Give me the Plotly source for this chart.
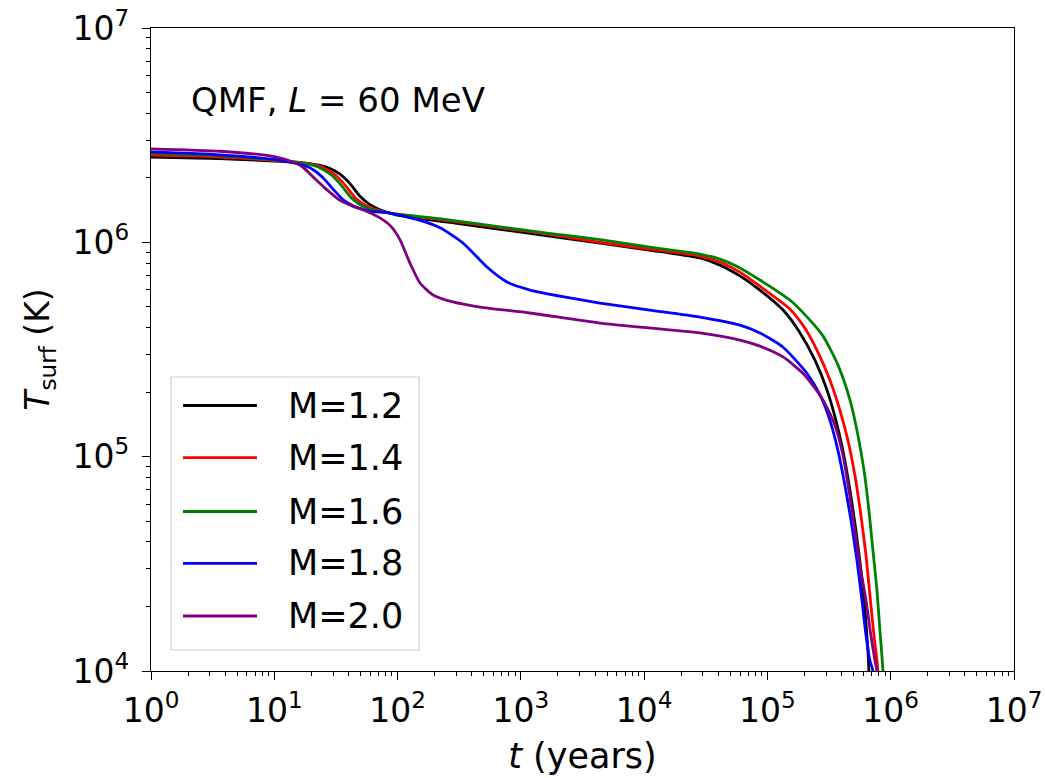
import plotly.graph_objects as go

# Surface temperature cooling curves, QMF EOS with L = 60 MeV
masses = ["M=1.2", "M=1.4", "M=1.6", "M=1.8", "M=2.0"]
colors = ["#000000", "#ff0000", "#008000", "#0000ff", "#800080"]

t_m12 = [1, 3.6, 11.1, 17.0, 23.0, 28.3, 34.1, 41.1, 49.5, 59.7, 71.9, 98.9, 266, 677, 1700,
         4380, 1.1e4, 2.83e4, 4.12e4, 5.98e4, 8.69e4, 1.34e5, 1.84e5, 2.43e5, 3.04e5,
         3.59e5, 4.09e5, 4.67e5, 5.22e5, 5.73e5, 6.18e5, 6.53e5, 6.65e5, 6.78e5]
T_m12 = [2.50e6, 2.46e6, 2.39e6, 2.35e6, 2.29e6, 2.21e6, 2.08e6, 1.88e6, 1.64e6, 1.50e6,
         1.42e6, 1.34e6, 1.24e6, 1.15e6, 1.07e6, 9.93e5, 9.2e5, 8.45e5, 7.83e5, 6.97e5,
         5.99e5, 4.83e5, 3.78e5, 2.82e5, 2.05e5, 1.48e5, 1.07e5, 6.98e4, 4.54e4, 2.96e4,
         1.92e4, 1.25e4, 1.0e4, 5.9e3]

t_m14 = [1, 3.6, 11.1, 17.0, 22.0, 26.3, 31.6, 38.1, 46.0, 55.5, 66.8, 86.7, 266, 677, 1700,
         4380, 1.1e4, 2.83e4, 4.12e4, 5.98e4, 8.69e4, 1.52e5, 2.01e5, 2.52e5, 3.21e5,
         3.87e5, 4.50e5, 5.12e5, 5.73e5, 6.30e5, 6.78e5, 7.31e5, 7.73e5, 7.87e5, 8.02e5]
T_m14 = [2.55e6, 2.50e6, 2.40e6, 2.35e6, 2.29e6, 2.20e6, 2.05e6, 1.83e6, 1.60e6, 1.48e6,
         1.42e6, 1.37e6, 1.26e6, 1.17e6, 1.09e6, 1.00e6, 9.3e5, 8.63e5, 8.09e5, 7.26e5,
         6.24e5, 4.89e5, 3.98e5, 3.14e5, 2.28e5, 1.65e5, 1.19e5, 8.2e4, 5.33e4, 3.47e4,
         2.26e4, 1.47e4, 1.12e4, 1.0e4, 5.9e3]

t_m16 = [1, 3.6, 11.1, 16.1, 20.5, 24.4, 29.4, 35.4, 42.7, 51.4, 62, 86.7, 266, 677, 1700,
         4380, 1.1e4, 2.83e4, 4.12e4, 5.98e4, 8.69e4, 1.52e5, 2.13e5, 2.82e5, 3.73e5,
         4.67e5, 5.42e5, 6.07e5, 6.65e5, 7.17e5, 7.73e5, 8.17e5, 8.65e5, 8.81e5]
T_m16 = [2.61e6, 2.54e6, 2.41e6, 2.35e6, 2.29e6, 2.20e6, 2.05e6, 1.83e6, 1.60e6, 1.48e6,
         1.42e6, 1.37e6, 1.27e6, 1.18e6, 1.10e6, 1.03e6, 9.5e5, 8.82e5, 8.35e5, 7.59e5,
         6.67e5, 5.38e5, 4.44e5, 3.66e5, 2.68e5, 1.84e5, 1.26e5, 8.65e4, 5.64e4, 3.66e4,
         2.39e4, 1.55e4, 1.0e4, 5.9e3]

t_m18 = [1, 3.6, 11.1, 14.7, 18.0, 21, 25.3, 30.5, 36.7, 46, 59.7, 86.7, 150, 221, 339, 531,
         771, 1186, 2300, 4380, 1.11e4, 2.83e4, 5.98e4, 8.69e4, 1.34e5, 2.09e5, 2.67e5,
         3.21e5, 3.73e5, 4.25e5, 4.76e5, 5.32e5, 5.84e5, 6.30e5, 6.78e5, 7.17e5, 7.31e5]
T_m18 = [2.64e6, 2.56e6, 2.42e6, 2.34e6, 2.27e6, 2.17e6, 1.98e6, 1.75e6, 1.57e6, 1.46e6,
         1.40e6, 1.37e6, 1.27e6, 1.17e6, 9.93e5, 7.67e5, 6.53e5, 5.99e5, 5.55e5, 5.21e5,
         4.83e5, 4.48e5, 4.11e5, 3.78e5, 3.24e5, 2.45e5, 1.94e5, 1.48e5, 1.07e5, 7.37e4,
         5.06e4, 3.29e4, 2.14e4, 1.47e4, 1.12e4, 1.0e4, 5.9e3]

t_m20 = [1, 3.6, 9.2, 14.2, 17.1, 20.6, 25.8, 34.1, 42.7, 52.4, 71.9, 88, 104.5, 126, 152,
         194, 281, 466, 1186, 4380, 2.83e4, 5.98e4, 8.69e4, 1.34e5, 2.01e5, 2.82e5, 3.53e5,
         4.09e5, 4.58e5, 5.12e5, 5.62e5, 6.30e5, 6.90e5, 7.45e5, 7.73e5, 7.87e5]
T_m20 = [2.73e6, 2.66e6, 2.53e6, 2.37e6, 2.24e6, 2.02e6, 1.79e6, 1.57e6, 1.48e6, 1.42e6,
         1.30e6, 1.19e6, 1.03e6, 8.0e5, 6.46e5, 5.68e5, 5.27e5, 4.99e5, 4.68e5, 4.20e5,
         3.78e5, 3.50e5, 3.28e5, 2.92e5, 2.40e5, 1.84e5, 1.40e5, 1.02e5, 6.98e4, 4.54e4,
         3.12e4, 2.14e4, 1.47e4, 1.12e4, 1.0e4, 5.9e3]

series_t = [t_m12, t_m14, t_m16, t_m18, t_m20]
series_T = [T_m12, T_m14, T_m16, T_m18, T_m20]

x_ticks = [10 ** k for k in range(0, 8)]
x_ticktext = [f"10<sup>{k}</sup>" for k in range(0, 8)]
y_ticks = [10 ** k for k in range(4, 8)]
y_ticktext = [f"10<sup>{k}</sup>" for k in range(4, 8)]
x_minor = [m * 10 ** k for k in range(0, 7) for m in range(2, 10)]
y_minor = [m * 10 ** k for k in range(4, 7) for m in range(2, 10)]

FONT = "DejaVu Sans"
W, H = 1045, 778
L, R, T, B = 151, 31, 28, 107

fig = go.Figure()
for name, col, tv, Tv in zip(masses, colors, series_t, series_T):
    fig.add_trace(go.Scatter(
        x=tv, y=Tv, mode="lines", name=name,
        line=dict(color=col, width=2.8, shape="spline", smoothing=0.6),
        showlegend=False,
    ))


def px(xp, yp):
    """Pixel position on the page -> paper coordinates."""
    return (xp - L) / (W - L - R), (H - B - yp) / (H - T - B)


# Legend box drawn as shapes/annotations
shapes = []
annotations = []
bx0, by0 = px(171, 377)
bx1, by1 = px(419, 650)
shapes.append(dict(type="rect", xref="paper", yref="paper", x0=bx0, y0=by1, x1=bx1, y1=by0,
                   line=dict(color="#d0d0d0", width=1.2), fillcolor="rgba(255,255,255,0.8)",
                   layer="above"))
row_y = [405.5, 457.7, 511.5, 563.3, 616]
for name, col, ry in zip(masses, colors, row_y):
    lx0, ly = px(183, ry)
    lx1, _ = px(257, ry)
    shapes.append(dict(type="line", xref="paper", yref="paper", x0=lx0, x1=lx1, y0=ly, y1=ly,
                       line=dict(color=col, width=2.8), layer="above"))
    tx, _ = px(286, ry)
    annotations.append(dict(xref="paper", yref="paper", x=tx, y=ly, text=name, showarrow=False,
                            xanchor="left", yanchor="middle",
                            font=dict(family=FONT, size=35, color="black")))

qx, qy = px(189, 100)
annotations.append(dict(xref="paper", yref="paper", x=qx, y=qy,
                        text="QMF, <i>L</i> = 60 MeV", showarrow=False,
                        xanchor="left", yanchor="middle",
                        font=dict(family=FONT, size=34, color="black")))

axis_common = dict(
    type="log", showgrid=False, zeroline=False, automargin=False,
    showline=True, linecolor="black", linewidth=1.3, mirror=True,
    ticks="outside", ticklen=8, tickwidth=1.3, tickcolor="black",
    tickfont=dict(family=FONT, size=33, color="black"),
)

fig.update_layout(
    width=W, height=H,
    margin=dict(l=L, r=R, t=T, b=B),
    paper_bgcolor="white", plot_bgcolor="white",
    shapes=shapes, annotations=annotations,
    xaxis=dict(**axis_common, range=[0, 7], tickvals=x_ticks, ticktext=x_ticktext,
               ticklabelstandoff=2,
               minor=dict(tickvals=x_minor, ticks="outside", ticklen=4, tickwidth=1,
                          tickcolor="black", showgrid=False),
               title=dict(text="<i>t</i> (years)", font=dict(family=FONT, size=35, color="black"),
                          standoff=14)),
    yaxis=dict(**axis_common, range=[4, 7], tickvals=y_ticks, ticktext=y_ticktext,
               ticklabelstandoff=6,
               minor=dict(tickvals=y_minor, ticks="outside", ticklen=4, tickwidth=1,
                          tickcolor="black", showgrid=False),
               title=dict(text="<i>T</i><sub>surf</sub> (K)",
                          font=dict(family=FONT, size=33, color="black"), standoff=12)),
)

fig.write_html("out.html")
